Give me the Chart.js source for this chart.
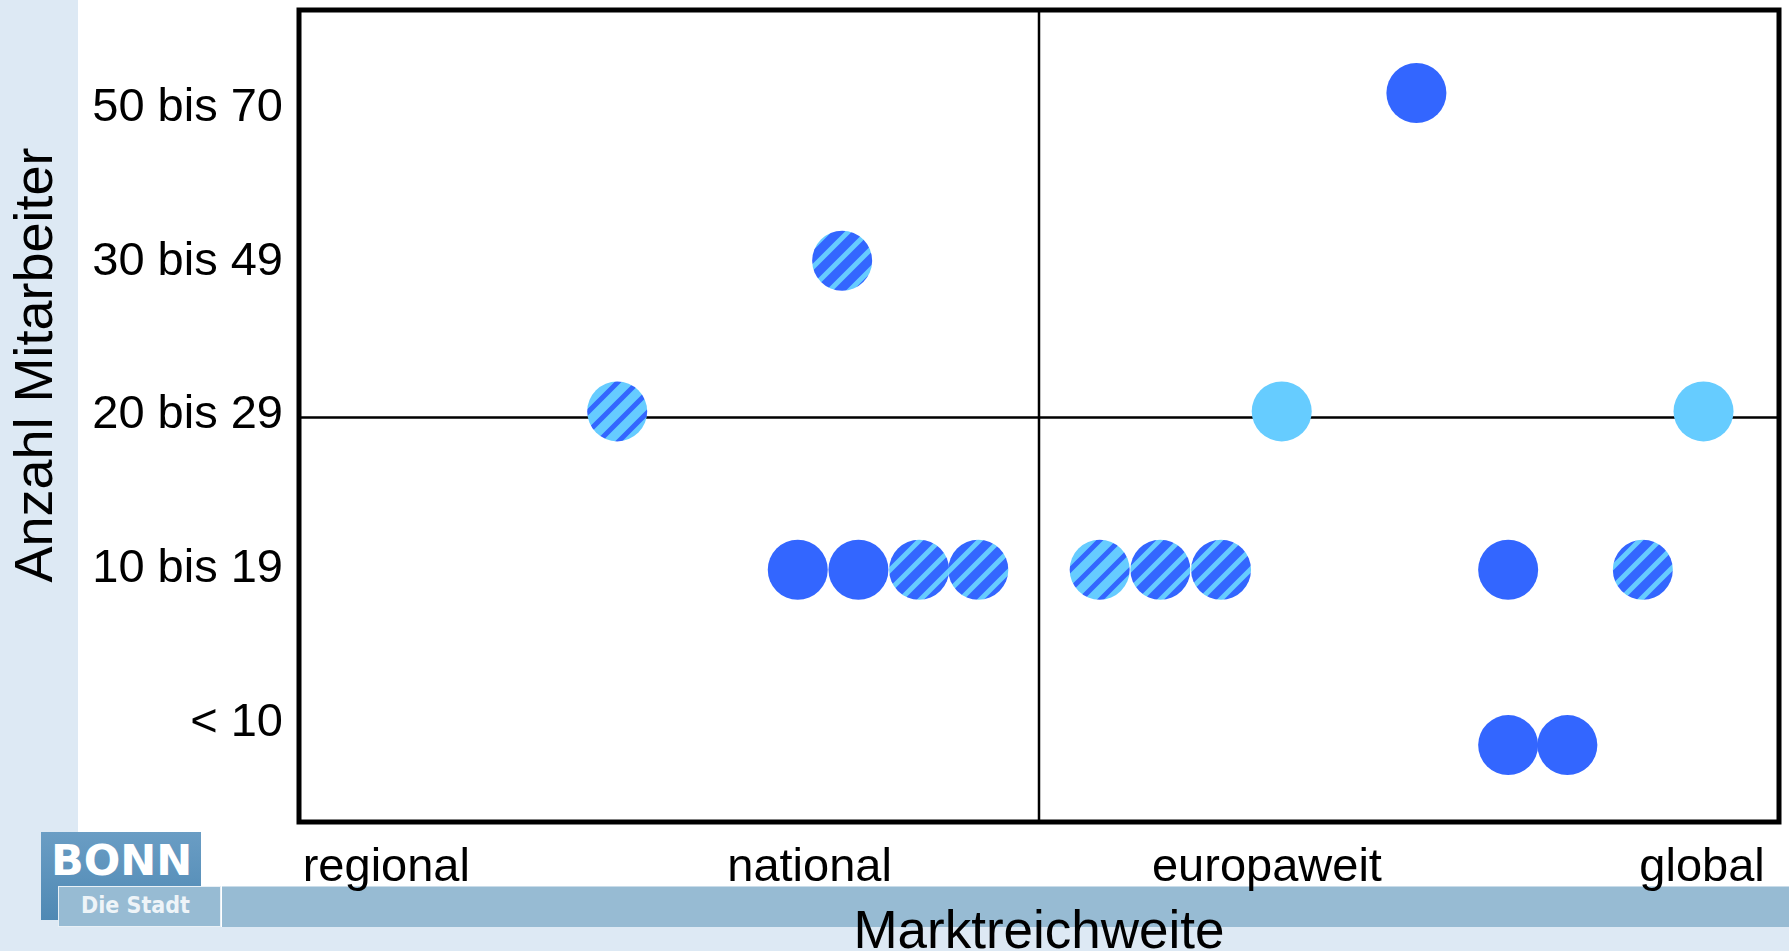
<!DOCTYPE html>
<html>
<head>
<meta charset="utf-8">
<script src="https://cdn.jsdelivr.net/npm/chart.js@4/dist/chart.umd.min.js"></script>
<style>
    html, body { margin: 0; padding: 0; background: #ffffff; overflow: hidden; }
    body { width: 1789px; height: 951px; position: relative; font-family: "Liberation Sans", Arial, sans-serif; }
    .strip { position: absolute; left: 0; top: 0; width: 78px; height: 951px; background: #dde9f4; }
    .bottomband { position: absolute; left: 0; top: 927px; width: 1789px; height: 24px; background: #dde9f4; }
    .bar { position: absolute; left: 222px; top: 886px; width: 1567px; height: 41px; background: #97bbd3; border-top: 1px solid #c9dce9; box-sizing: border-box; }
    .logo-top { position: absolute; left: 41px; top: 832px; width: 160px; height: 88px; background: linear-gradient(#6a9dc4, #4f89b4); }
    .logo-top span { position: absolute; left: 10px; top: 3px; font: bold 43px "DejaVu Sans", sans-serif; color: #ffffff; }
    .logo-sub { position: absolute; left: 58px; top: 886px; width: 163px; height: 41px; background: #97bbd3; border: 1px solid #e8f0f6; box-sizing: border-box; }
    .logo-sub span { position: absolute; left: 22px; top: 5px; font: bold 23px "DejaVu Sans Condensed", "DejaVu Sans", sans-serif; color: #eef4f8; }
    .ytitle { position: absolute; left: 33px; top: 365px; transform: translate(-50%, -50%) rotate(-90deg); white-space: nowrap; font-size: 54px; color: #000; }
    #wrap { position: absolute; left: 0; top: 0; width: 1789px; height: 951px; }
</style>
</head>
<body>
<div class="strip"></div>
<div class="bottomband"></div>
<div class="bar"></div>
<div class="logo-top"><span>BONN</span></div>
<div class="logo-sub"><span>Die Stadt</span></div>
<div class="ytitle">Anzahl Mitarbeiter</div>
<div id="wrap"><canvas id="matrix"></canvas></div>

<script>
// achsen
const xTickValues = [5.9, 34.5, 65.4, 94.8];
const xLabels = ["regional", "national", "europaweit", "global"];
const yTickValues = [1, 2, 3, 4, 5];
const yLabels = ["< 10", "10 bis 19", "20 bis 29", "30 bis 49", "50 bis 70"];
const midX = 50;
const midY = 2.96;

// punkte (x = Marktreichweite, y = Mitarbeiterklasse)
const darkX = [75.5, 33.7, 37.8, 81.7, 81.7, 85.7];
const darkY = [5.07, 1.97, 1.97, 1.97, 0.83, 0.83];
const lightX = [66.4, 94.9];
const lightY = [3.0, 3.0];
const hatchLightX = [21.5, 54.1];
const hatchLightY = [3.0, 1.97];
const hatchDarkX = [36.7, 41.9, 45.9, 58.2, 62.3, 90.8];
const hatchDarkY = [3.98, 1.97, 1.97, 1.97, 1.97, 1.97];

const DARK = "#3366ff";
const LIGHT = "#66ccff";

function stripes(bg, fg, w) {
    const t = 20;
    const c = document.createElement("canvas");
    c.width = t; c.height = t;
    const g = c.getContext("2d");
    g.fillStyle = bg;
    g.fillRect(0, 0, t, t);
    g.strokeStyle = fg;
    g.lineWidth = w;
    g.beginPath();
    g.moveTo(-t, t); g.lineTo(t, -t);
    g.moveTo(-t, 2 * t); g.lineTo(2 * t, -t);
    g.moveTo(0, 2 * t); g.lineTo(2 * t, 0);
    g.stroke();
    return g.createPattern(c, "repeat");
}

const pts = (xs, ys) => xs.map((x, i) => ({ x: x, y: ys[i] }));

// rahmen + quadrantenlinien
const boxPlugin = {
    id: "box",
    beforeDatasetsDraw(chart) {
        const { ctx, chartArea: a, scales } = chart;
        const px = scales.x.getPixelForValue(midX);
        const py = scales.y.getPixelForValue(midY);
        ctx.save();
        ctx.strokeStyle = "#000";
        ctx.lineWidth = 2.5;
        ctx.beginPath();
        ctx.moveTo(px, a.top); ctx.lineTo(px, a.bottom);
        ctx.moveTo(a.left, py); ctx.lineTo(a.right, py);
        ctx.stroke();
        ctx.restore();
    },
    afterDatasetsDraw(chart) {
        const { ctx, chartArea: a } = chart;
        ctx.save();
        ctx.strokeStyle = "#000";
        ctx.lineWidth = 5;
        ctx.strokeRect(a.left, a.top, a.right - a.left, a.bottom - a.top);
        ctx.restore();
    }
};

// feste achsengroessen, keine automatische zusatzpolsterung
function noPad(s) {
    s.paddingTop = 0; s.paddingBottom = 0; s.paddingLeft = 0; s.paddingRight = 0;
}

const common = { pointRadius: 30, pointHoverRadius: 30, pointBorderWidth: 0, showLine: false };

new Chart(document.getElementById("matrix"), {
    type: "scatter",
    data: {
        datasets: [
            { label: "A", data: pts(darkX, darkY), pointBackgroundColor: DARK, ...common },
            { label: "B", data: pts(lightX, lightY), pointBackgroundColor: LIGHT, ...common },
            { label: "C", data: pts(hatchLightX, hatchLightY), pointBackgroundColor: stripes(LIGHT, DARK, 5), ...common },
            { label: "D", data: pts(hatchDarkX, hatchDarkY), pointBackgroundColor: stripes(DARK, LIGHT, 5), ...common }
        ]
    },
    options: {
        responsive: true,
        maintainAspectRatio: false,
        animation: false,
        events: [],
        layout: { autoPadding: false, padding: { left: 91, top: 10, right: 10, bottom: 0 } },
        plugins: {
            legend: { display: false },
            tooltip: { enabled: false }
        },
        scales: {
            x: {
                type: "linear",
                min: 0,
                max: 100,
                grid: { display: false, drawTicks: false },
                border: { display: false },
                afterBuildTicks: (s) => { s.ticks = xTickValues.map(v => ({ value: v })); },
                afterFit: (s) => { noPad(s); s.height = 129; },
                ticks: {
                    autoSkip: false,
                    maxRotation: 0,
                    padding: 18,
                    color: "#000",
                    font: { family: "Liberation Sans", size: 47 },
                    callback: (v, i) => xLabels[i]
                },
                title: {
                    display: true,
                    text: "Marktreichweite",
                    color: "#000",
                    font: { family: "Liberation Sans", size: 53, lineHeight: 1 },
                    padding: { top: 10, bottom: -9 }
                }
            },
            y: {
                type: "linear",
                min: 0.33,
                max: 5.61,
                grid: { display: false, drawTicks: false },
                border: { display: false },
                afterBuildTicks: (s) => { s.ticks = yTickValues.map(v => ({ value: v })); },
                afterFit: (s) => { noPad(s); s.width = 208; },
                ticks: {
                    autoSkip: false,
                    padding: 16,
                    labelOffset: 4,
                    color: "#000",
                    font: { family: "Liberation Sans", size: 47 },
                    callback: (v, i) => yLabels[i]
                }
            }
        }
    },
    plugins: [boxPlugin]
});
</script>
</body>
</html>
